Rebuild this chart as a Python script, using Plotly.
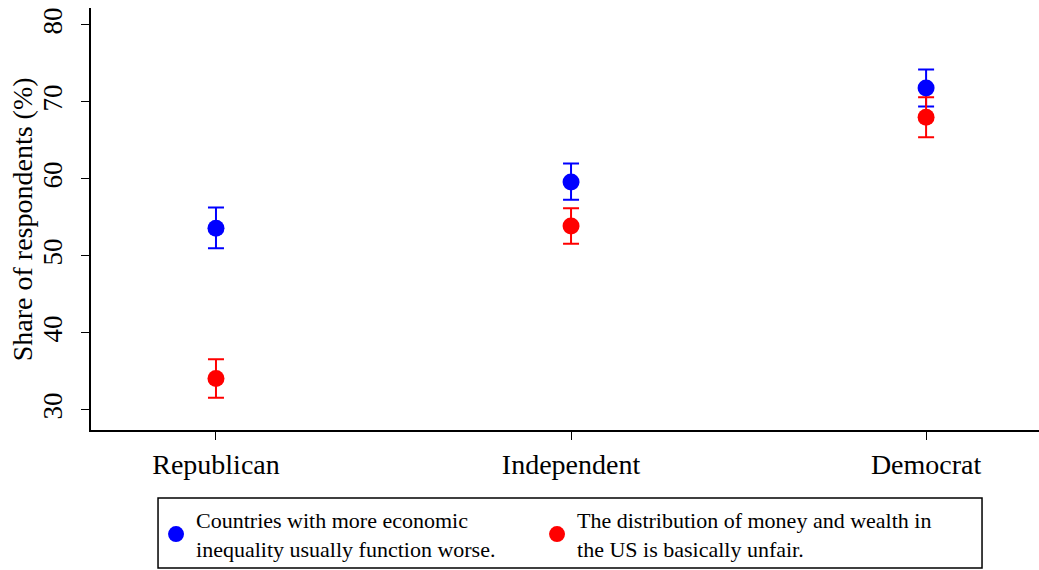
import plotly.graph_objects as go

# Party identification groups
parties = ["Republican", "Independent", "Democrat"]

# Share agreeing (%), with 95% confidence bounds
ineq_mean = [53.6, 59.6, 71.8]
ineq_upper = [56.3, 62.0, 74.2]
ineq_lower = [51.0, 57.3, 69.4]

unfair_mean = [34.1, 53.9, 68.0]
unfair_upper = [36.6, 56.2, 70.6]
unfair_lower = [31.6, 51.6, 65.4]

series_names = [
    "Countries with more economic<br>inequality usually function worse.",
    "The distribution of money and wealth in<br>the US is basically unfair.",
]

y_ticks = [30, 40, 50, 60, 70, 80]
y_title = "Share of respondents (%)"

FONT = "Liberation Serif"

fig = go.Figure()


def add_series(mean, upper, lower, color, name, legend):
    fig.add_trace(go.Scatter(
        x=list(range(len(parties))),
        y=mean,
        mode="markers",
        name=name,
        legend=legend,
        marker=dict(color=color, size=17, line=dict(width=0)),
        error_y=dict(
            type="data",
            symmetric=False,
            array=[u - m for u, m in zip(upper, mean)],
            arrayminus=[m - l for m, l in zip(mean, lower)],
            color=color,
            thickness=2,
            width=8,
        ),
    ))


add_series(ineq_mean, ineq_upper, ineq_lower, "#0000ff", series_names[0], "legend")
add_series(unfair_mean, unfair_upper, unfair_lower, "#ff0000", series_names[1], "legend2")

legend_style = dict(
    orientation="h",
    xanchor="left",
    y=-0.164,
    yanchor="top",
    borderwidth=0,
    bgcolor="rgba(0,0,0,0)",
    font=dict(family=FONT, size=22, color="black"),
    itemsizing="trace",
)

fig.update_layout(
    width=1039,
    height=570,
    margin=dict(l=91, r=0, t=8, b=140),
    paper_bgcolor="white",
    plot_bgcolor="white",
    font=dict(family=FONT, color="black"),
    showlegend=True,
    legend=dict(x=0.0686, **legend_style),
    legend2=dict(x=0.4705, **legend_style),
    xaxis=dict(
        range=[-0.352, 2.318],
        tickmode="array",
        tickvals=list(range(len(parties))),
        ticktext=parties,
        ticks="outside",
        ticklen=8,
        tickcolor="black",
        tickfont=dict(family=FONT, size=28, color="black"),
        showline=True,
        linecolor="black",
        linewidth=2,
        showgrid=False,
        zeroline=False,
    ),
    yaxis=dict(
        range=[27.4, 82.2],
        tickmode="array",
        tickvals=y_ticks,
        ticks="outside",
        ticklen=8,
        tickcolor="black",
        tickangle=-90,
        ticklabelstandoff=8,
        tickfont=dict(family=FONT, size=27, color="black"),
        showline=True,
        linecolor="black",
        linewidth=2,
        showgrid=False,
        zeroline=False,
    ),
    # Frame around the two legend entries
    shapes=[dict(
        type="rect",
        xref="paper",
        yref="paper",
        x0=0.0707,
        x1=0.9399,
        y0=-0.327,
        y1=-0.161,
        line=dict(color="black", width=1.5),
        fillcolor="rgba(0,0,0,0)",
        layer="below",
    )],
    annotations=[dict(
        text=y_title,
        textangle=-90,
        xref="paper",
        yref="paper",
        x=-0.0725,
        y=0.5,
        xanchor="center",
        yanchor="middle",
        showarrow=False,
        font=dict(family=FONT, size=28, color="black"),
    )],
)

fig.write_html("out.html")
